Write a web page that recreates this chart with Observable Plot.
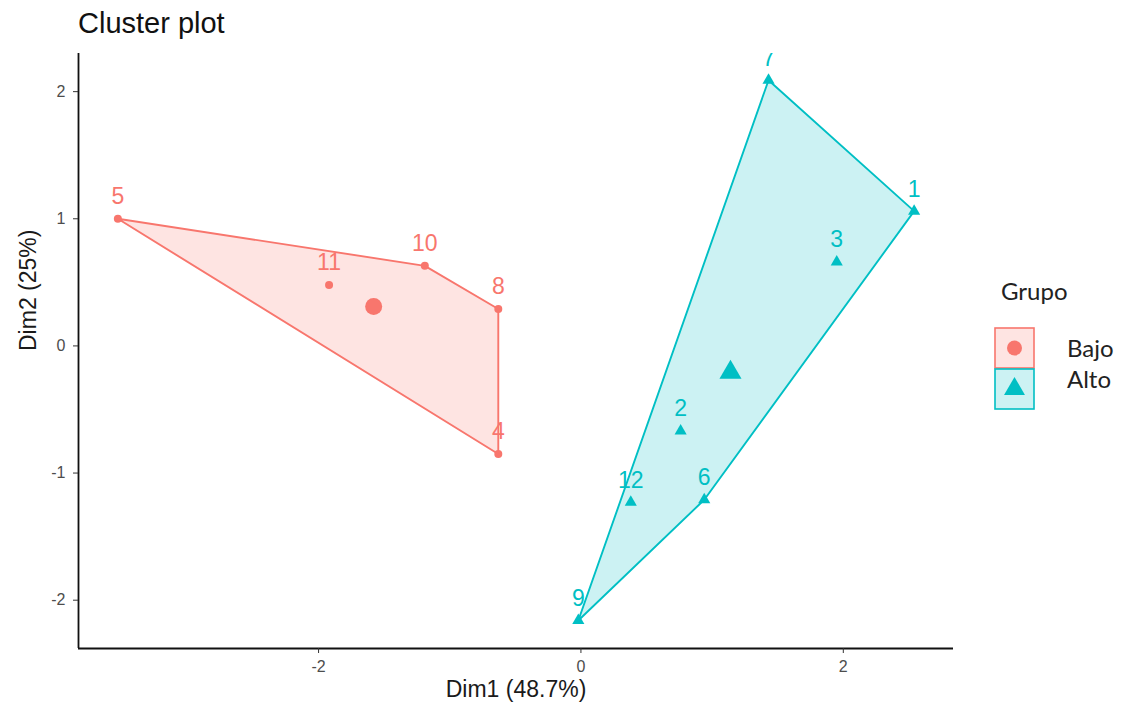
<!DOCTYPE html>
<html>
<head>
<meta charset="utf-8">
<script src="https://cdn.jsdelivr.net/npm/d3@7"></script>
<script src="https://cdn.jsdelivr.net/npm/@observablehq/plot@0.6"></script>
<style>
  body { margin: 0; background: #fff; }
  #wrap { position: relative; width: 1125px; height: 713px; overflow: hidden; background: #fff; }
  #title { position: absolute; left: 0; top: 0; }
  #chart { position: absolute; left: 0; top: 40px; }
  #legend { position: absolute; left: 960px; top: 260px; }
  #chart g[aria-label$="tick label"] { font-size: 16px; }
</style>
</head>
<body>
<div id="wrap">
  <svg id="title" width="600" height="40"></svg>
  <div id="chart"></div>
  <svg id="legend" width="165" height="160"></svg>
</div>
<script>
// ---- data ----
const pointLabels = ["5", "10", "11", "8", "4", "7", "1", "3", "2", "12", "6", "9"];
const pointGroup  = ["Bajo", "Bajo", "Bajo", "Bajo", "Bajo", "Alto", "Alto", "Alto", "Alto", "Alto", "Alto", "Alto"];
const dim1 = [-3.53, -1.19, -1.92, -0.63, -0.63, 1.43, 2.54, 1.95, 0.76, 0.38, 0.94, -0.02];
const dim2 = [1.00, 0.63, 0.48, 0.29, -0.85, 2.09, 1.06, 0.66, -0.67, -1.23, -1.21, -2.16];
const groupNames = ["Bajo", "Alto"];
const groupColors = ["#F8766D", "#00BFC4"];
const groupSymbols = ["circle", "triangle"];
const xTicks = [-2, 0, 2];
const yTicks = [-2, -1, 0, 1, 2];
const xDomain = [-3.83, 2.84];
const yDomain = [-2.38, 2.30];
const titleText = "Cluster plot";
const xLabel = "Dim1 (48.7%)";
const yLabel = "Dim2 (25%)";
const legendTitle = "Grupo";

const points = pointLabels.map((label, i) => ({label, group: pointGroup[i], x: dim1[i], y: dim2[i]}));
const centers = groupNames.map(g => {
  const sub = points.filter(p => p.group === g);
  return {group: g, x: d3.mean(sub, p => p.x), y: d3.mean(sub, p => p.y)};
});

const font = "'Liberation Sans', Arial, Helvetica, sans-serif";
const fmt = d => String(d);

const chart = Plot.plot({
  width: 1125,
  height: 673,
  marginTop: 13,
  marginBottom: 65,
  marginLeft: 78,
  marginRight: 172,
  style: {fontFamily: font, background: "white", overflow: "visible"},
  x: {domain: xDomain},
  y: {domain: yDomain},
  color: {domain: groupNames, range: groupColors},
  symbol: {domain: groupNames, range: groupSymbols},
  marks: [
    Plot.hull(points, {x: "x", y: "y", fill: "group", stroke: "group", fillOpacity: 0.2, strokeWidth: 1.9}),
    Plot.dot(points.filter(d => d.group === "Bajo"), {x: "x", y: "y", fill: "group", symbol: "group", r: 4}),
    Plot.dot(points.filter(d => d.group === "Alto"), {x: "x", y: "y", fill: "group", symbol: "group", r: 4.5}),
    Plot.dot(centers.filter(d => d.group === "Bajo"), {x: "x", y: "y", fill: "group", symbol: "group", r: 8.5}),
    Plot.dot(centers.filter(d => d.group === "Alto"), {x: "x", y: "y", fill: "group", symbol: "group", r: 8.2}),
    Plot.text(points, {x: "x", y: "y", text: "label", fill: "group", dy: -22, fontSize: 23, clip: true}),
    Plot.ruleX([xDomain[0]], {stroke: "#111", strokeWidth: 1.8}),
    Plot.ruleY([yDomain[0]], {stroke: "#111", strokeWidth: 1.8}),
    Plot.axisX({ticks: xTicks, tickFormat: fmt, tickSize: 5, tickPadding: 7, fontSize: 16, fill: "#4d4d4d", stroke: "#333", label: null}),
    Plot.axisY({ticks: yTicks, tickFormat: fmt, tickSize: 5, tickPadding: 8, fontSize: 16, fill: "#4d4d4d", stroke: "#333", label: null}),
    Plot.text([xLabel], {text: d => d, frameAnchor: "bottom", dy: 48, fontSize: 23, fill: "#1a1a1a"}),
    Plot.text([yLabel], {text: d => d, frameAnchor: "left", dx: -50, rotate: -90, fontSize: 23, fill: "#1a1a1a"})
  ]
});
document.getElementById("chart").appendChild(chart);

// ---- title ----
const title = d3.select("#title");
title.append("text")
  .attr("x", 78).attr("y", 33)
  .attr("font-family", font).attr("font-size", 29).attr("fill", "#111")
  .text(titleText);

// ---- legend (page coords offset by 960,260) ----
const lg = d3.select("#legend");
lg.append("text").attr("x", 41).attr("y", 40)
  .attr("font-family", "Lato, 'Open Sans', sans-serif").attr("font-size", 24).attr("fill", "#222")
  .text(legendTitle);
groupNames.forEach((g, i) => {
  const y0 = 68 + i * 41;
  lg.append("rect").attr("x", 35).attr("y", y0).attr("width", 39).attr("height", 40)
    .attr("fill", groupColors[i]).attr("fill-opacity", 0.2)
    .attr("stroke", groupColors[i]).attr("stroke-width", 1.6);
  const sym = d3.symbol().type(groupSymbols[i] === "circle" ? d3.symbolCircle : d3.symbolTriangle)
    .size(groupSymbols[i] === "circle" ? Math.PI * 7.5 * 7.5 : 190);
  lg.append("path").attr("d", sym()).attr("fill", groupColors[i])
    .attr("transform", `translate(54.5,${y0 + 20})`);
  lg.append("text").attr("x", 107).attr("y", 97 + i * 31)
    .attr("font-family", "Lato, 'Open Sans', sans-serif").attr("font-size", 24).attr("fill", "#222")
    .text(g);
});
</script>
</body>
</html>
